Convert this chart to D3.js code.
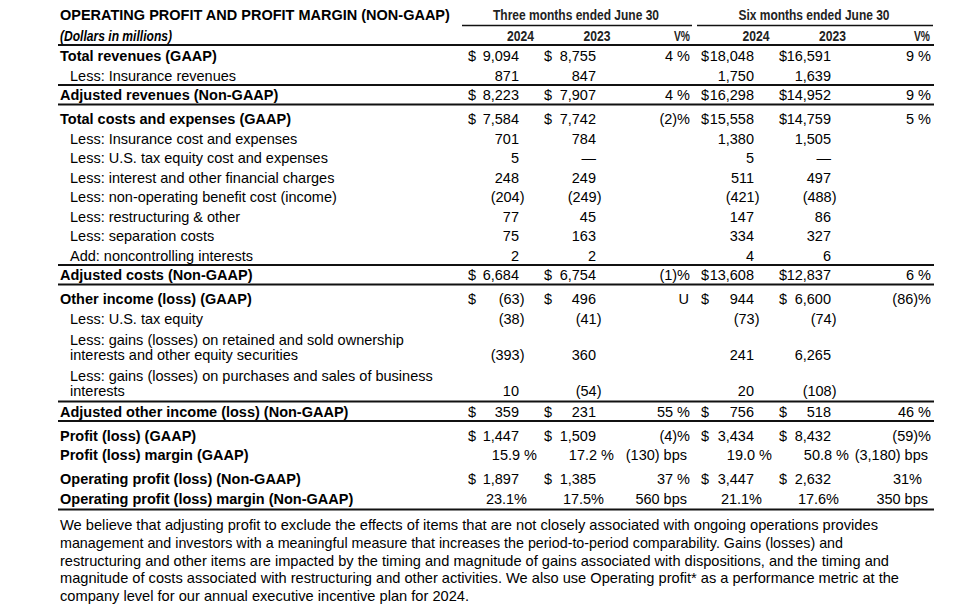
<!DOCTYPE html>
<html>
<head>
<meta charset="utf-8">
<script src="https://cdn.jsdelivr.net/npm/d3@7"></script>
<style>
  html, body { margin: 0; padding: 0; background: #fff; }
  svg { display: block; font-family: "Liberation Sans", Arial, sans-serif; }
</style>
</head>
<body>
<svg id="chart" width="979" height="611"></svg>
<script>

var title = "OPERATING PROFIT AND PROFIT MARGIN (NON-GAAP)";
var unitsLabel = "(Dollars in millions)";
var periodLabels = ["Three months ended June 30", "Six months ended June 30"];
var columnLabels = ["2024", "2023", "V%", "2024", "2023", "V%"];

var rowLabels = [
  "Total revenues (GAAP)",
  "Less: Insurance revenues",
  "Adjusted revenues (Non-GAAP)",
  "Total costs and expenses (GAAP)",
  "Less: Insurance cost and expenses",
  "Less: U.S. tax equity cost and expenses",
  "Less: interest and other financial charges",
  "Less: non-operating benefit cost (income)",
  "Less: restructuring & other",
  "Less: separation costs",
  "Add: noncontrolling interests",
  "Adjusted costs (Non-GAAP)",
  "Other income (loss) (GAAP)",
  "Less: U.S. tax equity",
  "Less: gains (losses) on retained and sold ownership|interests and other equity securities",
  "Less: gains (losses) on purchases and sales of business|interests",
  "Adjusted other income (loss) (Non-GAAP)",
  "Profit (loss) (GAAP)",
  "Profit (loss) margin (GAAP)",
  "Operating profit (loss) (Non-GAAP)",
  "Operating profit (loss) margin (Non-GAAP)"
];

// total = bold, starts a block; sub = indented; adjusted = bold with rules; margin rows are percentages
var rowKinds = ["total", "sub", "adjusted", "total", "sub", "sub", "sub", "sub", "sub", "sub", "sub",
  "adjusted", "total", "sub", "sub", "sub", "adjusted", "total", "margin", "total", "margin2"];

var dollarRows = [0, 2, 3, 11, 12, 16, 17, 19];

var q2024 = [9094, 871, 8223, 7584, 701, 5, 248, -204, 77, 75, 2, 6684, -63, -38, -393, 10, 359, 1447, 15.9, 1897, 23.1];
var q2023 = [8755, 847, 7907, 7742, 784, null, 249, -249, 45, 163, 2, 6754, 496, -41, 360, -54, 231, 1509, 17.2, 1385, 17.5];
var qVar = ["4 %", "", "4 %", "(2)%", "", "", "", "", "", "", "", "(1)%", "U", "", "", "", "55 %", "(4)%", "(130) bps", "37 %", "560 bps"];
var h2024 = [18048, 1750, 16298, 15558, 1380, 5, 511, -421, 147, 334, 4, 13608, 944, -73, 241, 20, 756, 3434, 19.0, 3447, 21.1];
var h2023 = [16591, 1639, 14952, 14759, 1505, null, 497, -488, 86, 327, 6, 12837, 6600, -74, 6265, -108, 518, 8432, 50.8, 2632, 17.6];
var hVar = ["9 %", "", "9 %", "5 %", "", "", "", "", "", "", "", "6 %", "(86)%", "", "", "", "46 %", "(59)%", "(3,180) bps", "31%", "350 bps"];

var footnoteLines = [
  "We believe that adjusting profit to exclude the effects of items that are not closely associated with ongoing operations provides",
  "management and investors with a meaningful measure that increases the period-to-period comparability. Gains (losses) and",
  "restructuring and other items are impacted by the timing and magnitude of gains associated with dispositions, and the timing and",
  "magnitude of costs associated with restructuring and other activities. We also use Operating profit* as a performance metric at the",
  "company level for our annual executive incentive plan for 2024."
];

var svg = d3.select("#chart"),
    fs = 14.5,
    left = 58, right = 934,
    narrow = "'Liberation Sans Narrow', 'Arial Narrow', 'Liberation Sans', Arial, sans-serif";

var colKeys = ["q24", "q23", "qv", "h24", "h23", "hv"];
var colData = { q24: q2024, q23: q2023, qv: qVar, h24: h2024, h23: h2023, hv: hVar };

// right edge of each value column
var x = d3.scaleOrdinal().domain(colKeys).range([519, 596, 690, 754, 831, 931]);
// where the dollar sign sits
var xDollar = d3.scaleOrdinal().domain(["q24", "q23", "h24", "h23"]).range([468, 544, 701, 779]);

// vertical layout: rows stacked with extra room for new blocks and wrapped labels
var yPos = [], cur = 56;
rowLabels.forEach(function(lab, i) {
  if (i > 0) {
    var wrapped = lab.indexOf("|") >= 0,
        prevWrapped = rowLabels[i - 1].indexOf("|") >= 0;
    cur += 19.5;
    if (rowKinds[i] == "total") cur += 4.5;
    if (wrapped || prevWrapped) cur += 1.5;
    if (wrapped) cur += 15;
  }
  yPos.push(cur);
});
var y = d3.scaleOrdinal().domain(d3.range(rowLabels.length)).range(yPos);

// ---- header
svg.append("text")
    .attr("x", 60).attr("y", 15).attr("dy", "0.35em")
    .attr("font-weight", "bold").attr("font-size", fs)
    .text(title);

svg.append("text")
    .attr("x", 60).attr("y", 36).attr("dy", "0.35em")
    .attr("font-family", narrow)
    .attr("font-weight", "bold").attr("font-style", "italic").attr("font-size", 14)
    .attr("textLength", 112).attr("lengthAdjust", "spacingAndGlyphs")
    .text(unitsLabel);

var periods = [{ x0: 462, x1: 692, w: 166 }, { x0: 697, x1: 933, w: 151 }];
periods.forEach(function(p, i) {
  svg.append("text")
      .attr("x", (p.x0 + p.x1) / 2 - 1).attr("y", 15).attr("dy", "0.35em")
      .attr("text-anchor", "middle")
      .attr("font-family", narrow).attr("font-weight", "bold").attr("font-size", 14)
      .attr("fill", "#222")
      .attr("textLength", p.w).attr("lengthAdjust", "spacingAndGlyphs")
      .text(periodLabels[i]);
  svg.append("line")
      .attr("x1", p.x0).attr("x2", p.x1).attr("y1", 25.5).attr("y2", 25.5)
      .attr("stroke", "#111").attr("stroke-width", 1.6);
});

var headCenters = [520.5, 597, 682, 756, 832.5, 922];
columnLabels.forEach(function(c, i) {
  svg.append("text")
      .attr("x", headCenters[i]).attr("y", 36).attr("dy", "0.35em")
      .attr("text-anchor", "middle")
      .attr("font-family", narrow).attr("font-weight", "bold").attr("font-size", 14)
      .attr("fill", "#222")
      .attr("textLength", c == "V%" ? 16 : 27).attr("lengthAdjust", "spacingAndGlyphs")
      .text(c);
});

// ---- rules
function rule(yy) {
  svg.append("line")
      .attr("x1", left).attr("x2", right).attr("y1", yy).attr("y2", yy)
      .attr("stroke", "#111").attr("stroke-width", 2);
}
rule(y(0) - 11);
rowKinds.forEach(function(k, i) {
  if (k == "adjusted") { rule(y(i) - 10); rule(y(i) + 9.5); }
});
rule(y(rowLabels.length - 1) + 11);

// ---- row labels
var labels = svg.append("g").selectAll("text")
    .data(rowLabels)
  .enter().append("text")
    .attr("x", function(d, i) { return rowKinds[i] == "sub" ? 70 : 60; })
    .attr("y", function(d, i) { return y(i); })
    .attr("font-size", fs)
    .attr("font-weight", function(d, i) { return rowKinds[i] == "sub" ? "normal" : "bold"; });

labels.each(function(d, i) {
  var parts = d.split("|"), t = d3.select(this);
  parts.forEach(function(p, j) {
    t.append("tspan")
        .attr("x", rowKinds[i] == "sub" ? 70 : 60)
        .attr("y", y(i) - (parts.length - 1 - j) * 15)
        .attr("dy", "0.35em")
        .text(p);
  });
});

// ---- values
var fmt = d3.format(",");
function fmtAmount(v) {
  if (v === null) return "\u2014";
  return v < 0 ? "(" + fmt(-v) + ")" : fmt(v);
}

var cells = [];
colKeys.forEach(function(k) {
  colData[k].forEach(function(v, i) {
    cells.push({ col: k, row: i, v: v });
  });
});

var vals = svg.append("g").attr("font-size", fs);

vals.selectAll("text.val")
    .data(cells.filter(function(c) { return c.v !== "" ; }))
  .enter().append("text")
    .attr("class", "val")
    .attr("text-anchor", "end")
    .attr("y", function(c) { return y(c.row); })
    .attr("dy", "0.35em")
    .attr("x", function(c) {
      var kind = rowKinds[c.row], base = x(c.col);
      if (c.col == "qv" || c.col == "hv") {
        if (/bps/.test(c.v)) return base - 3;
        if (c.v == "31%") return base - 9;
        if (c.v == "U") return base - 1;
        return base;
      }
      if (kind == "margin") return base + 18;
      if (kind == "margin2") return base + 8;
      if (c.v !== null && c.v < 0) return base + 5.5;
      return base;
    })
    .text(function(c) {
      var kind = rowKinds[c.row];
      if (c.col == "qv" || c.col == "hv") return c.v;
      if (kind == "margin") return d3.format(".1f")(c.v) + " %";
      if (kind == "margin2") return d3.format(".1f")(c.v) + "%";
      return fmtAmount(c.v);
    });

var dollarCells = [];
dollarRows.forEach(function(r) {
  ["q24", "q23", "h24", "h23"].forEach(function(k) { dollarCells.push({ col: k, row: r }); });
});
vals.selectAll("text.dollar")
    .data(dollarCells)
  .enter().append("text")
    .attr("class", "dollar")
    .attr("x", function(c) { return xDollar(c.col); })
    .attr("y", function(c) { return y(c.row); })
    .attr("dy", "0.35em")
    .text("$");

// ---- footnote
var noteWidths = [818, 783, 829, 839, 409];
svg.append("g").selectAll("text")
    .data(footnoteLines)
  .enter().append("text")
    .attr("x", 60)
    .attr("y", function(d, i) { return 525 + i * 17.8; })
    .attr("dy", "0.35em")
    .attr("font-family", narrow)
    .attr("font-size", 14.5)
    .attr("textLength", function(d, i) { return noteWidths[i]; })
    .attr("lengthAdjust", "spacingAndGlyphs")
    .text(function(d) { return d; });

</script>
</body>
</html>
